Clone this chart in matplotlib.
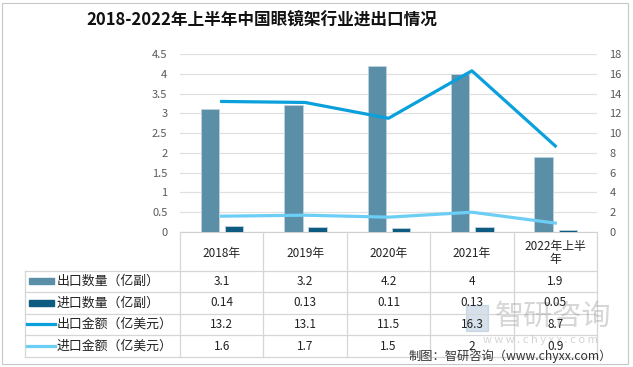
import matplotlib
matplotlib.use("Agg")
import matplotlib.pyplot as plt
from matplotlib.patches import Rectangle
from matplotlib.lines import Line2D
import numpy as np

plt.rcParams['font.family'] = ['Noto Sans CJK SC', 'DejaVu Sans']

title = "2018-2022年上半年中国眼镜架行业进出口情况"
categories = ["2018年", "2019年", "2020年", "2021年", "2022年上半\n年"]
series_names = ["出口数量（亿副）", "进口数量（亿副）", "出口金额（亿美元）", "进口金额（亿美元）"]
export_qty = [3.1, 3.2, 4.2, 4.0, 1.9]
import_qty = [0.14, 0.13, 0.11, 0.13, 0.05]
export_amt = [13.2, 13.1, 11.5, 16.3, 8.7]
import_amt = [1.6, 1.7, 1.5, 2.0, 0.9]
table_text = [["3.1", "3.2", "4.2", "4", "1.9"],
              ["0.14", "0.13", "0.11", "0.13", "0.05"],
              ["13.2", "13.1", "11.5", "16.3", "8.7"],
              ["1.6", "1.7", "1.5", "2", "0.9"]]
left_ticks = [0, 0.5, 1, 1.5, 2, 2.5, 3, 3.5, 4, 4.5]
left_ticklabels = ["0", "0.5", "1", "1.5", "2", "2.5", "3", "3.5", "4", "4.5"]
right_ticks = [0, 2, 4, 6, 8, 10, 12, 14, 16, 18]

colors = ["#5B8FA8", "#0D5B80", "#0AA0DC", "#6CCEF5"]

W, H = 633, 367
fig = plt.figure(figsize=(W / 100, H / 100), dpi=100)
fig.patch.set_facecolor("white")

def fx(px):
    return px / W

def fy(py):
    return 1 - py / H

# outer frame
fig.add_artist(Rectangle((fx(2), fy(364)), fx(628) - fx(2), fy(3) - fy(364),
                         transform=fig.transFigure, fill=False, edgecolor="#C8C8C8", lw=0.8))

ax_l, ax_r, ax_b, ax_t = 180, 597, 232, 54
ax = fig.add_axes([fx(ax_l), fy(ax_b), fx(ax_r) - fx(ax_l), fy(ax_t) - fy(ax_b)])
x = np.arange(len(categories))
bw = 0.22
ax.bar(x - 0.14, export_qty, bw, color=colors[0], edgecolor="#BFD3DD", lw=0.6, zorder=3)
ax.bar(x + 0.15, import_qty, bw, color=colors[1], edgecolor="#BFD3DD", lw=0.6, zorder=3)
ax.set_xlim(-0.5, len(categories) - 0.5)
ax.set_ylim(0, 4.5)
ax.set_yticks(left_ticks)
ax.set_yticklabels(left_ticklabels)
ax.set_xticks([])
ax.grid(axis="y", color="#E0E0E0", lw=0.9, zorder=0)
for s in ["top", "right", "left"]:
    ax.spines[s].set_visible(False)
ax.spines["bottom"].set_color("#D0D0D0")
ax.tick_params(axis="y", length=0, labelsize=8, labelcolor="#595959", pad=9)
ax.set_facecolor("none")

ax2 = ax.twinx()
ax2.plot(x, export_amt, color=colors[2], lw=2.3, zorder=4, solid_joinstyle="round")
ax2.plot(x, import_amt, color=colors[3], lw=2.3, zorder=4, solid_joinstyle="round")
ax2.set_ylim(0, 18)
ax2.set_yticks(right_ticks)
ax2.tick_params(axis="y", length=0, labelsize=8, labelcolor="#595959", pad=9)
for s in ["top", "right", "left", "bottom"]:
    ax2.spines[s].set_visible(False)

# title
fig.text(fx(262), fy(20), title, ha="center", va="center", fontsize=12,
         fontweight="bold", color="#111111")

# data table
line_c = "#D6D6D6"
col_w = (ax_r - ax_l) / len(categories)
row_edges = [232, 270.5, 292, 313.5, 335, 357]
tbl_left = 25

def hline(y, x0, x1):
    fig.add_artist(Line2D([fx(x0), fx(x1)], [fy(y), fy(y)], transform=fig.transFigure,
                          color=line_c, lw=0.9))

def vline(xp, y0, y1):
    fig.add_artist(Line2D([fx(xp), fx(xp)], [fy(y0), fy(y1)], transform=fig.transFigure,
                          color=line_c, lw=0.9))

for ry in row_edges[1:]:
    hline(ry, tbl_left, ax_r)
for i in range(len(categories) + 1):
    vline(ax_l + i * col_w, row_edges[0], row_edges[-1])
vline(tbl_left, row_edges[1], row_edges[-1])

# watermark (drawn below table text)
fig.add_artist(Rectangle((fx(466), fy(331)), fx(488) - fx(466), fy(305) - fy(331),
                         transform=fig.transFigure, color="#8AA9C8", alpha=0.35))
fig.text(fx(553), fy(317), "智研咨询", ha="center", va="center", fontsize=21,
         color="#9A9A9A", alpha=0.4)
fig.text(fx(540), fy(340), "w w w . c h y x x . c o m", ha="center", va="center",
         fontsize=8, color="#A0A0A0", alpha=0.45)

for i, c in enumerate(categories):
    cx = ax_l + (i + 0.5) * col_w
    cy = (row_edges[0] + row_edges[1]) / 2 + 2
    fig.text(fx(cx), fy(cy), c, ha="center", va="center", fontsize=8.5,
             color="#222222", linespacing=1.0)

for r in range(4):
    cy = (row_edges[r + 1] + row_edges[r + 2]) / 2
    for i in range(len(categories)):
        cx = ax_l + (i + 0.5) * col_w
        fig.text(fx(cx), fy(cy), table_text[r][i], ha="center", va="center",
                 fontsize=8.5, color="#222222")
    # legend key
    if r < 2:
        fig.add_artist(Rectangle((fx(29), fy(cy + 3)), fx(54) - fx(29), fy(cy - 3) - fy(cy + 3),
                                 transform=fig.transFigure, color=colors[r]))
    else:
        fig.add_artist(Line2D([fx(27), fx(55)], [fy(cy), fy(cy)], transform=fig.transFigure,
                              color=colors[r], lw=2.3))
    fig.text(fx(57), fy(cy), series_names[r], ha="left", va="center", fontsize=9.3,
             color="#222222")

fig.text(fx(510), fy(356), "制图：智研咨询（www.chyxx.com）", ha="center", va="center",
         fontsize=8.8, color="#333333")

fig.savefig("out.png", dpi=100, facecolor="white")
